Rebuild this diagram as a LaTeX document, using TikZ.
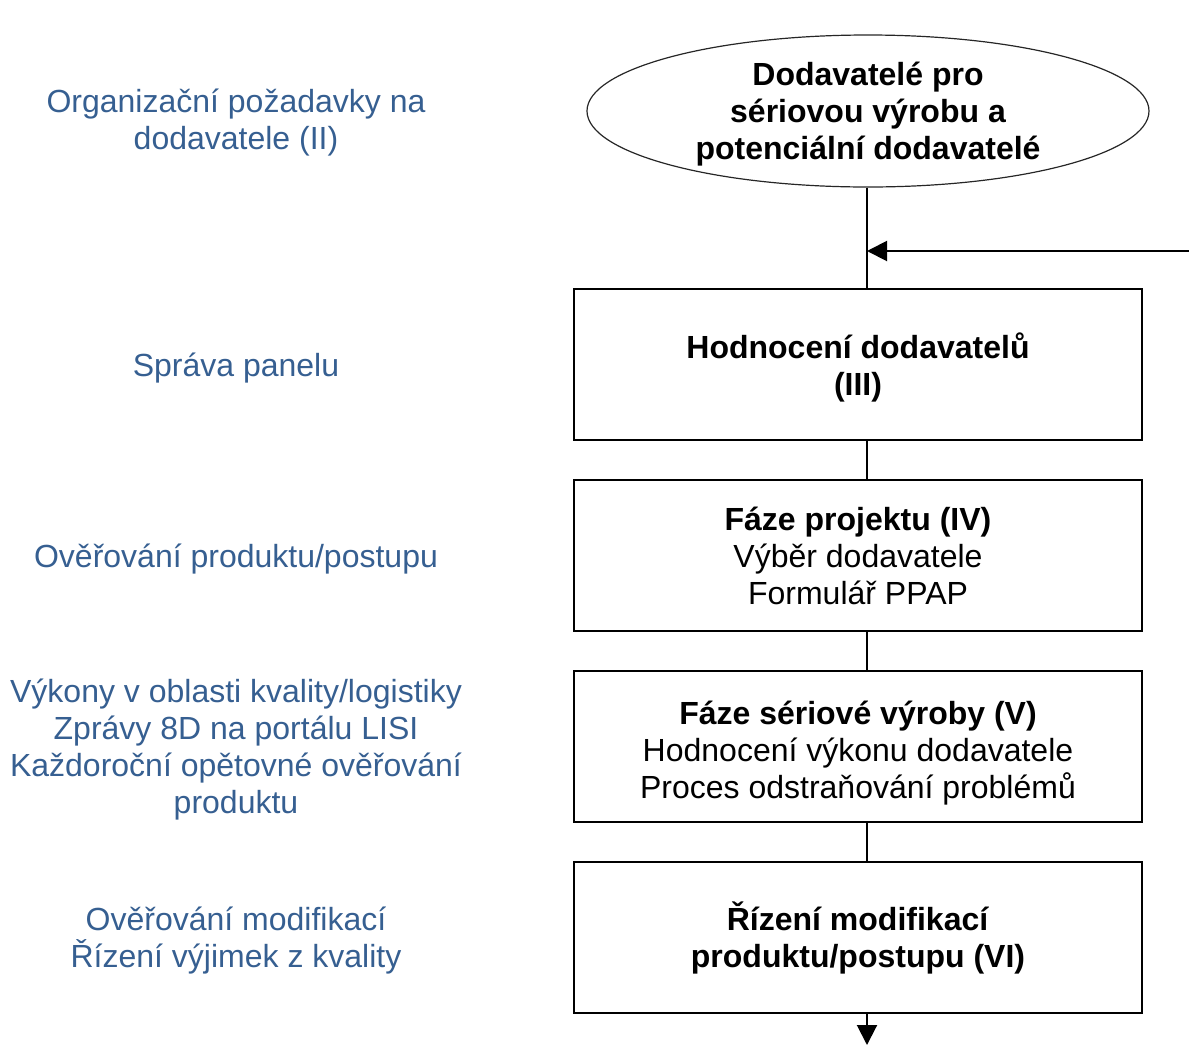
\documentclass[tikz,border=0pt]{standalone}
\usepackage{fontspec}
\setmainfont{Liberation Sans}
\usetikzlibrary{shapes.geometric,arrows.meta}
\definecolor{lblue}{RGB}{54,95,145}
\tikzset{
  stagebox/.style={draw=black,line width=2pt,rectangle,minimum width=568pt,minimum height=151pt,inner sep=0pt},
  boxtext/.style={align=center,inner sep=0pt,font=\fontsize{32}{37}\selectfont},
  sidelabel/.style={text=lblue,align=center,inner sep=0pt,font=\fontsize{32}{37}\selectfont},
  conn/.style={line width=2pt,draw=black},
  tip/.style={-{Triangle[length=20pt,width=20pt]}}
}
\begin{document}
\begin{tikzpicture}[x=1pt,y=-1pt]
\useasboundingbox (0,0) rectangle (1189,1045);
\node[draw=black!85,line width=1.2pt,ellipse,minimum width=562pt,minimum height=152pt,inner sep=0pt] (src) at (868,111) {};
\node[boxtext,font=\fontsize{32}{37}\selectfont\bfseries] (srct) at (868,114) {Dodavatelé pro\\sériovou výrobu a\\potenciální dodavatelé};
\node[stagebox] (b1) at (858,364.5) {};
\node[stagebox] (b2) at (858,555) {};
\node[stagebox] (b3) at (858,746) {};
\node[stagebox] (b4) at (858,937) {};
\node[boxtext] (t1) at (858,367.5) {\textbf{Hodnocení dodavatelů}\\\textbf{(III)}};
\node[boxtext] (t2) at (858,556) {\textbf{Fáze projektu (IV)}\\Výběr dodavatele\\Formulář PPAP};
\node[boxtext] (t3) at (858,753.5) {\textbf{Fáze sériové výroby (V)}\\Hodnocení výkonu dodavatele\\Proces odstraňování problémů};
\node[boxtext] (t4) at (858,937.5) {\textbf{Řízení modifikací}\\\textbf{produktu/postupu (VI)}};
\coordinate (J) at (867,251);
\coordinate (R) at (1189,251);
\coordinate (B) at (867,1045);
\draw[conn] (src.south -| J) -- (J |- b1.north);
\draw[conn,tip] (R) -- (J);
\draw[conn] (b1.south -| J) -- (J |- b2.north);
\draw[conn] (b2.south -| J) -- (J |- b3.north);
\draw[conn] (b3.south -| J) -- (J |- b4.north);
\draw[conn,tip] (b4.south -| J) -- (B);
\node[sidelabel] (l1) at (236,122.5) {Organizační požadavky na\\dodavatele (II)};
\node[sidelabel] (l2) at (236,368) {Správa panelu};
\node[sidelabel] (l3) at (236,559) {Ověřování produktu/postupu};
\node[sidelabel] (l4) at (236,749.5) {Výkony v oblasti kvality/logistiky\\Zprávy 8D na portálu LISI\\Každoroční opětovné ověřování\\produktu};
\node[sidelabel] (l5) at (236,940.5) {Ověřování modifikací\\Řízení výjimek z kvality};
\end{tikzpicture}
\end{document}
